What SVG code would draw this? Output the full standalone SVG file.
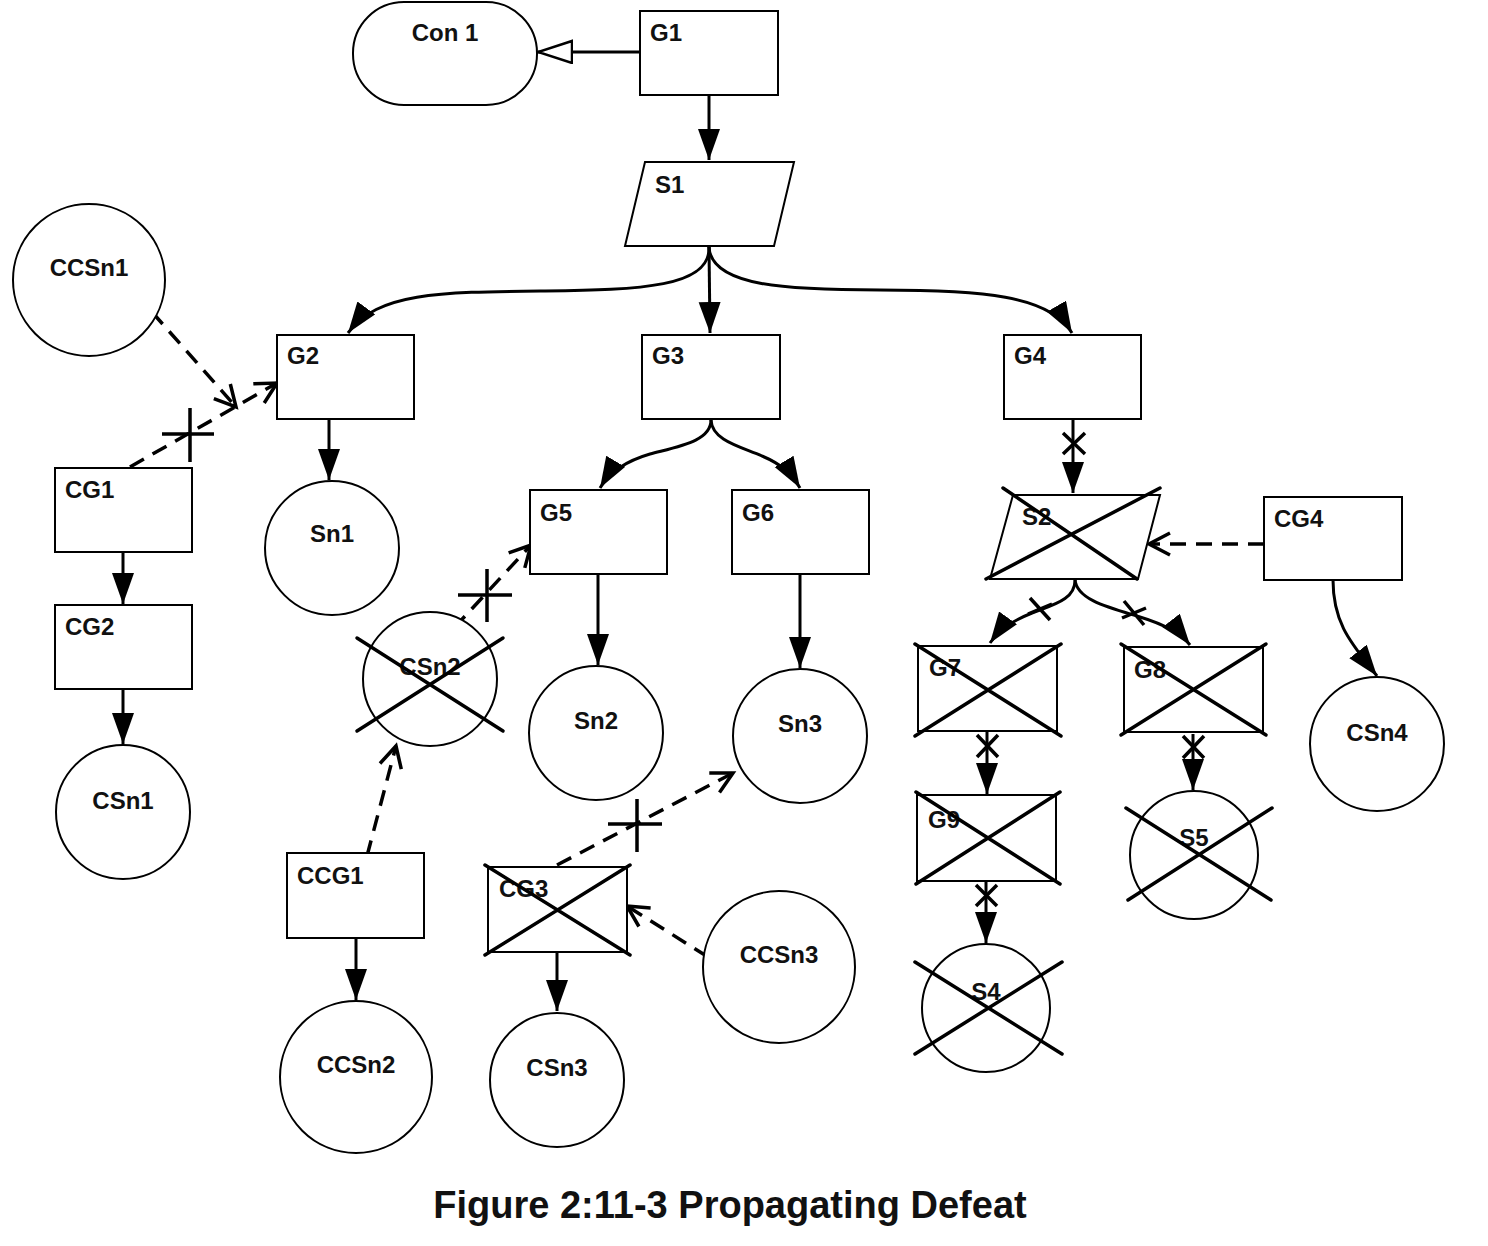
<svg xmlns="http://www.w3.org/2000/svg" width="1488" height="1246" viewBox="0 0 1488 1246">
<defs>
<style>
.n{fill:#fff;stroke:#000;stroke-width:2}
.x{stroke:#000;stroke-width:3.5;fill:none;stroke-linecap:round}
.t{font-family:"Liberation Sans",Arial,sans-serif;font-weight:bold;font-size:24px;fill:#111}
.c{text-anchor:middle}
.e{fill:none;stroke:#000;stroke-width:3}
.d{fill:none;stroke:#000;stroke-width:3.5;stroke-dasharray:16 10}
.m{stroke:#000;stroke-width:3.5;fill:none}
.cap{font-family:"Liberation Sans",Arial,sans-serif;font-weight:bold;font-size:38px;fill:#111;text-anchor:middle}
</style>
<marker id="fa" markerUnits="userSpaceOnUse" markerWidth="34" markerHeight="26" refX="31" refY="11" orient="auto"><path d="M0,0 L31,11 L0,22 z" fill="#000"/></marker>
<marker id="oa" markerUnits="userSpaceOnUse" markerWidth="28" markerHeight="28" refX="23" refY="13" orient="auto"><path d="M2,2 L23,13 L2,24" fill="none" stroke="#000" stroke-width="3.5"/></marker>
<marker id="ha" markerUnits="userSpaceOnUse" markerWidth="38" markerHeight="28" refX="35" refY="12" orient="auto"><path d="M1,1 L35,12 L1,23 z" fill="#fff" stroke="#000" stroke-width="2.5"/></marker>
</defs>
<rect width="1488" height="1246" fill="#fff"/>

<g id="connectors">
<line class="e" x1="640" y1="52" x2="538" y2="52" marker-end="url(#ha)"/>
<line class="e" x1="709" y1="95" x2="709" y2="160" marker-end="url(#fa)"/>
<path class="e" d="M709,247 C711,287 640,290 545,291 C440,292 378,292 348,333" marker-end="url(#fa)"/>
<line class="e" x1="709" y1="247" x2="710" y2="333" marker-end="url(#fa)"/>
<path class="e" d="M709,247 C711,287 790,290 880,290 C980,290 1050,295 1072,333" marker-end="url(#fa)"/>
<line class="e" x1="329" y1="419" x2="329" y2="480" marker-end="url(#fa)"/>
<line class="e" x1="123" y1="552" x2="123" y2="604" marker-end="url(#fa)"/>
<line class="e" x1="123" y1="689" x2="123" y2="744" marker-end="url(#fa)"/>
<path class="e" d="M711,420 C711,441 680,446 650,454 C626,461 610,471 600,488" marker-end="url(#fa)"/>
<path class="e" d="M711,420 C712,441 742,447 762,456 C781,464 791,473 800,488" marker-end="url(#fa)"/>
<line class="e" x1="598" y1="574" x2="598" y2="665" marker-end="url(#fa)"/>
<line class="e" x1="800" y1="574" x2="800" y2="668" marker-end="url(#fa)"/>
<line class="e" x1="356" y1="938" x2="356" y2="1000" marker-end="url(#fa)"/>
<line class="e" x1="557" y1="952" x2="557" y2="1011" marker-end="url(#fa)"/>
<line class="e" x1="1073" y1="419" x2="1073" y2="493" marker-end="url(#fa)"/>
<path class="e" d="M1075,579 C1076,600 1052,605 1032,613 C1012,621 1000,629 990,643" marker-end="url(#fa)"/>
<path class="e" d="M1075,579 C1076,600 1110,608 1140,617 C1163,624 1180,632 1190,645" marker-end="url(#fa)"/>
<path class="e" d="M1333,580 C1333,625 1353,645 1377,676" marker-end="url(#fa)"/>
<line class="e" x1="987" y1="732" x2="987" y2="794" marker-end="url(#fa)"/>
<line class="e" x1="1193" y1="734" x2="1193" y2="790" marker-end="url(#fa)"/>
<line class="e" x1="986" y1="882" x2="986" y2="943" marker-end="url(#fa)"/>

<line class="d" x1="152" y1="312" x2="236" y2="407" marker-end="url(#oa)"/>
<line class="d" x1="130" y1="467" x2="277" y2="383" marker-end="url(#oa)"/>
<line class="d" x1="454" y1="628" x2="531" y2="545" marker-end="url(#oa)"/>
<line class="d" x1="367" y1="856" x2="396" y2="746" marker-end="url(#oa)"/>
<line class="d" x1="557" y1="865" x2="733" y2="773" marker-end="url(#oa)"/>
<line class="d" x1="708" y1="957" x2="627" y2="906" marker-end="url(#oa)"/>
<line class="d" x1="1264" y1="544" x2="1149" y2="544" marker-end="url(#oa)"/>

<path class="m" d="M162,434 H214 M190,408 V462"/>
<path class="m" d="M458,595 H512 M487,569 V622"/>
<path class="m" d="M608,824 H662 M637,799 V852"/>
<path class="m" d="M1063,433 L1085,454 M1085,433 L1063,454"/>
<path class="m" d="M1030,598 L1050,620 M1028,614 L1052,604"/>
<path class="m" d="M1124,601 L1144,625 M1122,618 L1146,608"/>
<path class="m" d="M977,735 L998,757 M998,735 L977,757"/>
<path class="m" d="M1183,736 L1204,758 M1204,736 L1183,758"/>
<path class="m" d="M976,885 L997,906 M997,885 L976,906"/>
</g>

<g id="Con1"><rect class="n" x="353" y="2" width="184" height="103" rx="51" ry="51"/><text class="t c" x="445" y="41">Con 1</text></g>
<g id="G1"><rect class="n" x="640" y="11" width="138" height="84"/><text class="t" x="650" y="41">G1</text></g>
<g id="S1"><path class="n" d="M645,162 L794,162 L774,246 L625,246 z"/><text class="t" x="655" y="193">S1</text></g>
<g id="G2"><rect class="n" x="277" y="335" width="137" height="84"/><text class="t" x="287" y="364">G2</text></g>
<g id="G3"><rect class="n" x="642" y="335" width="138" height="84"/><text class="t" x="652" y="364">G3</text></g>
<g id="G4"><rect class="n" x="1004" y="335" width="137" height="84"/><text class="t" x="1014" y="364">G4</text></g>
<g id="CCSn1"><circle class="n" cx="89" cy="280" r="76"/><text class="t c" x="89" y="276">CCSn1</text></g>
<g id="Sn1"><circle class="n" cx="332" cy="548" r="67"/><text class="t c" x="332" y="542">Sn1</text></g>
<g id="CG1"><rect class="n" x="55" y="468" width="137" height="84"/><text class="t" x="65" y="498">CG1</text></g>
<g id="CG2"><rect class="n" x="55" y="605" width="137" height="84"/><text class="t" x="65" y="635">CG2</text></g>
<g id="CSn1"><circle class="n" cx="123" cy="812" r="67"/><text class="t c" x="123" y="809">CSn1</text></g>
<g id="G5"><rect class="n" x="530" y="490" width="137" height="84"/><text class="t" x="540" y="521">G5</text></g>
<g id="G6"><rect class="n" x="732" y="490" width="137" height="84"/><text class="t" x="742" y="521">G6</text></g>
<g id="CSn2"><circle class="n" cx="430" cy="679" r="67"/><text class="t c" x="430" y="675">CSn2</text><path class="x" d="M357,638 L503,731 M357,731 L503,638"/></g>
<g id="Sn2"><circle class="n" cx="596" cy="733" r="67"/><text class="t c" x="596" y="729">Sn2</text></g>
<g id="Sn3"><circle class="n" cx="800" cy="736" r="67"/><text class="t c" x="800" y="732">Sn3</text></g>
<g id="CCG1"><rect class="n" x="287" y="853" width="137" height="85"/><text class="t" x="297" y="884">CCG1</text></g>
<g id="CCSn2"><circle class="n" cx="356" cy="1077" r="76"/><text class="t c" x="356" y="1073">CCSn2</text></g>
<g id="CG3"><rect class="n" x="488" y="867" width="139" height="85"/><text class="t" x="499" y="897">CG3</text><path class="x" d="M485,865 L630,955 M485,955 L630,865"/></g>
<g id="CSn3"><circle class="n" cx="557" cy="1080" r="67"/><text class="t c" x="557" y="1076">CSn3</text></g>
<g id="CCSn3"><circle class="n" cx="779" cy="967" r="76"/><text class="t c" x="779" y="963">CCSn3</text></g>
<g id="S2"><path class="n" d="M1013,495 L1160,495 L1138,579 L990,579 z"/><text class="t" x="1022" y="525">S2</text><path class="x" d="M1003,488 L1137,579 M986,579 L1160,488"/></g>
<g id="CG4"><rect class="n" x="1264" y="497" width="138" height="83"/><text class="t" x="1274" y="527">CG4</text></g>
<g id="CSn4"><circle class="n" cx="1377" cy="744" r="67"/><text class="t c" x="1377" y="741">CSn4</text></g>
<g id="G7"><rect class="n" x="918" y="646" width="139" height="85"/><text class="t" x="929" y="676">G7</text><path class="x" d="M915,644 L1061,736 M915,736 L1061,644"/></g>
<g id="G8"><rect class="n" x="1124" y="647" width="139" height="85"/><text class="t" x="1134" y="678">G8</text><path class="x" d="M1121,644 L1266,735 M1121,735 L1266,644"/></g>
<g id="G9"><rect class="n" x="917" y="795" width="139" height="86"/><text class="t" x="928" y="828">G9</text><path class="x" d="M916,792 L1060,884 M916,884 L1060,792"/></g>
<g id="S5"><circle class="n" cx="1194" cy="855" r="64"/><text class="t c" x="1194" y="846">S5</text><path class="x" d="M1126,808 L1271,900 M1128,900 L1272,808"/></g>
<g id="S4"><circle class="n" cx="986" cy="1008" r="64"/><text class="t c" x="986" y="1000">S4</text><path class="x" d="M915,962 L1062,1054 M915,1054 L1062,962"/></g>

<text class="cap" x="730" y="1218">Figure 2:11-3 Propagating Defeat</text>
</svg>
